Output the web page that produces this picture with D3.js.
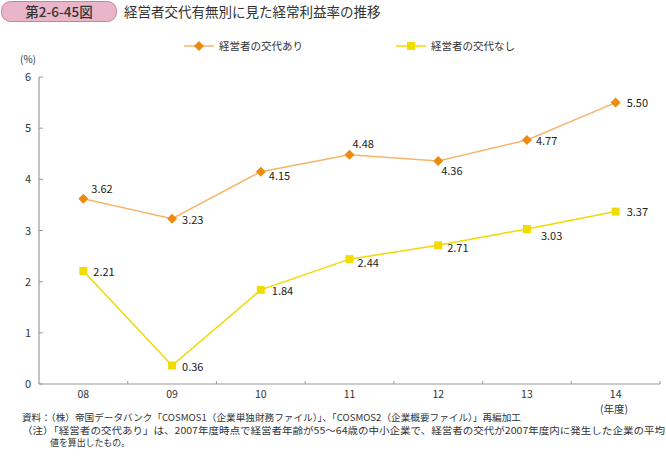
<!DOCTYPE html>
<html><head><meta charset="utf-8">
<script src="https://cdn.jsdelivr.net/npm/d3@7"></script>
<style>
body{margin:0;background:#fff;}
svg{display:block;font-family:"Noto Sans CJK JP","Noto Sans",sans-serif;}
</style></head><body>
<svg id="c" width="666" height="456"></svg>
<script>
const categories = ["08","09","10","11","12","13","14"];
const withSuccession = [3.62,3.23,4.15,4.48,4.36,4.77,5.50];
const withoutSuccession = [2.21,0.36,1.84,2.44,2.71,3.03,3.37];
const yTicks = [0,1,2,3,4,5,6];
const seriesNames = ["経営者の交代あり","経営者の交代なし"];
// label offsets (style only)
const offA = [[8,-10],[10,1],[8,4],[3,-11],[3,10],[9,1],[11,0]];
const offB = [[10,1],[10,1],[11,1],[8,4],[9,3],[14,7],[11,0]];

const svg = d3.select("#c");
const x0 = 39, x1 = 660, yTop = 77, yBot = 384;
const x = d3.scaleBand().domain(categories).range([x0,x1]);
const y = d3.scaleLinear().domain([0,6]).range([yBot,yTop]);
const cx = d => x(d) + x.bandwidth()/2;

// title badge
svg.append("rect").attr("x",1.5).attr("y",1.5).attr("width",115).attr("height",20)
  .attr("rx",9).attr("fill","#e9b6c9").attr("stroke","#cf7f9b").attr("stroke-width",1);
svg.append("text").attr("x",59).attr("y",16.5).attr("text-anchor","middle")
  .attr("font-size",13.5).attr("font-weight",500).attr("fill","#333").text("第2-6-45図");
svg.append("text").attr("x",124).attr("y",16.5).attr("font-size",13.5).attr("fill","#333")
  .text("経営者交代有無別に見た経常利益率の推移");

const colA = {line:"#f7b46c", mark:"#ee8a0c"};
const colB = {line:"#f1d900", mark:"#f2dc00"};

function drawMark(g, px, py, col, shape){
  if(shape==="d"){
    g.append("path").attr("d",`M${px},${py-5}L${px+5},${py}L${px},${py+5}L${px-5},${py}Z`).attr("fill",col.mark);
  } else {
    g.append("rect").attr("x",px-4).attr("y",py-4).attr("width",8).attr("height",8).attr("fill",col.mark);
  }
}
// legend
function legend(lx, name, col, shape){
  const g = svg.append("g");
  g.append("line").attr("x1",lx).attr("x2",lx+30).attr("y1",46).attr("y2",46)
    .attr("stroke",col.line).attr("stroke-width",1.5);
  drawMark(g, lx+15, 46, col, shape);
  g.append("text").attr("x",lx+35).attr("y",50).attr("font-size",10.5).attr("fill","#333").text(name);
}
legend(184, seriesNames[0], colA, "d");
legend(396, seriesNames[1], colB, "s");

// axes
const axisCol = "#9a9a9a";
svg.append("line").attr("x1",x0).attr("x2",x0).attr("y1",yTop).attr("y2",yBot).attr("stroke",axisCol).attr("stroke-width",1.2);
svg.append("line").attr("x1",x0).attr("x2",x1).attr("y1",yBot).attr("y2",yBot).attr("stroke",axisCol).attr("stroke-width",1.2);
yTicks.forEach(t=>{
  svg.append("line").attr("x1",x0).attr("x2",x0+4).attr("y1",y(t)).attr("y2",y(t)).attr("stroke",axisCol);
  svg.append("text").attr("x",31).attr("y",y(t)+4).attr("text-anchor","end").attr("font-size",11).attr("fill","#333").text(t);
});
svg.append("text").attr("x",28).attr("y",63).attr("text-anchor","middle").attr("font-size",10).attr("fill","#333").text("(%)");
categories.forEach((c,i)=>{
  const bx = x(c) + x.bandwidth();
  svg.append("line").attr("x1",bx).attr("x2",bx).attr("y1",yBot).attr("y2",yBot-3).attr("stroke",axisCol);
  svg.append("text").attr("x",cx(c)).attr("y",398).attr("text-anchor","middle").attr("font-size",10.5).attr("fill","#333").text(c);
});
svg.append("text").attr("x",614).attr("y",413).attr("text-anchor","middle").attr("font-size",10.5).attr("fill","#333").text("(年度)");

// series
function series(vals, col, shape, offs){
  const line = d3.line().x((d,i)=>cx(categories[i])).y(d=>y(d));
  svg.append("path").attr("d",line(vals)).attr("fill","none").attr("stroke",col.line).attr("stroke-width",1.5);
  const g = svg.append("g");
  vals.forEach((v,i)=>{
    const px = cx(categories[i]), py = y(v);
    drawMark(g, px, py, col, shape);
    g.append("text").attr("x",px+offs[i][0]).attr("y",py+offs[i][1]+4).attr("font-size",11).attr("fill","#222").text(v.toFixed(2));
  });
}
series(withSuccession, colA, "d", offA);
series(withoutSuccession, colB, "s", offB);

// footer
const foot = [
  [22,421,"資料：（株）帝国データバンク「COSMOS1（企業単独財務ファイル）」、「COSMOS2（企業概要ファイル）」再編加工",499],
  [22,433.5,"（注）「経営者の交代あり」は、2007年度時点で経営者年齢が55～64歳の中小企業で、経営者の交代が2007年度内に発生した企業の平均",643],
  [50,446,"値を算出したもの。",80]
];
foot.forEach(f=>{
  svg.append("text").attr("x",f[0]).attr("y",f[1]).attr("font-size",9.5).attr("fill","#333")
    .attr("textLength",f[3]).attr("lengthAdjust","spacingAndGlyphs").text(f[2]);
});
</script></body></html>
